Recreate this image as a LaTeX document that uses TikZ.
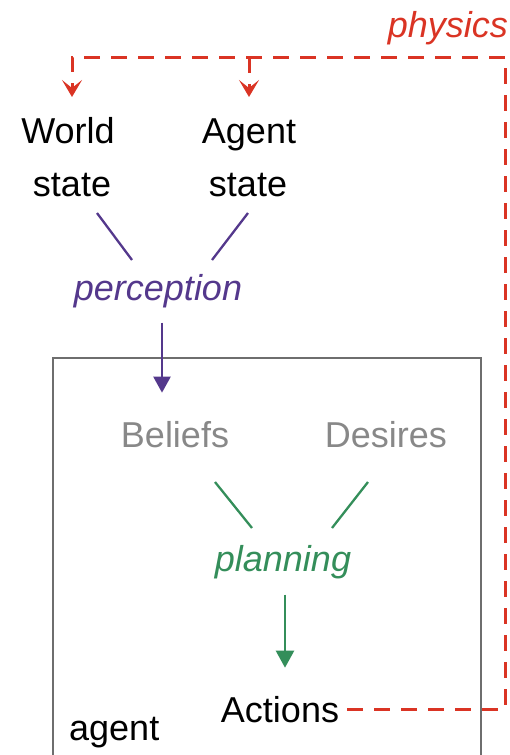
\documentclass[tikz,border=0pt]{standalone}
\usepackage{fontspec}
\setmainfont{Liberation Sans}
\usetikzlibrary{arrows.meta}
\definecolor{physred}{RGB}{218,52,36}
\definecolor{percpurple}{RGB}{84,56,140}
\definecolor{plangreen}{RGB}{52,142,90}
\definecolor{mindgray}{RGB}{136,136,136}
\definecolor{boxgray}{RGB}{110,110,110}
\begin{document}
\begin{tikzpicture}[x=1pt,y=-1pt,
  lbl/.style={font=\fontsize{36}{53}\selectfont, inner sep=0pt, anchor=base},
  ilbl/.style={lbl, font=\fontsize{36}{53}\selectfont\itshape},
  physline/.style={draw=physred, line width=3pt, dash pattern=on 16pt off 11pt,
    -{Stealth[length=17pt,width=20pt,inset=8pt]}},
  percline/.style={draw=percpurple, line width=2.3pt},
  percarrow/.style={percline, -{Triangle[length=16pt,width=17pt]}},
  planline/.style={draw=plangreen, line width=2.3pt},
  planarrow/.style={planline, -{Triangle[length=17pt,width=18pt]}},
  agentbox/.style={draw=boxgray, line width=1.3pt}]
\useasboundingbox (0,0) rectangle (510,755);

% agent boundary (open at the bottom)
\draw[agentbox] (53,755) |- (481,358) -- (481,755);

% labels
\node[ilbl, text=physred, anchor=base east] (phys) at (508,37) {physics};
\node[lbl] (world) at (68,143) {World};
\node[lbl] (worldst) at (72,196) {state};
\node[lbl] (agentw) at (249,143) {Agent};
\node[lbl] (agentst) at (248,196) {state};
\node[ilbl, text=percpurple] (perc) at (158,300) {perception};
\node[lbl, text=mindgray] (bel) at (175,447) {Beliefs};
\node[lbl, text=mindgray] (des) at (386,447) {Desires};
\node[ilbl, text=plangreen] (plan) at (283,571) {planning};
\node[lbl] (act) at (280,722) {Actions};
\node[lbl, anchor=base west] (agt) at (69,740) {agent};

% physics loop
\coordinate (rx) at (505,57);
\coordinate (lx) at (72,57);
\draw[physline] ([xshift=8pt]act.east) -- (act.east -| rx) -- (rx) -- (lx) -- ++(0,40);
\draw[physline] (agentw.north |- rx) -- ++(0,40);

% perception
\coordinate (pa1) at (97,213);  \coordinate (pa2) at (132,260);
\coordinate (pb1) at (248,213); \coordinate (pb2) at (212,260);
\draw[percline] (pa1) -- (pa2);
\draw[percline] (pb1) -- (pb2);
\draw[percarrow] ([xshift=4pt,yshift=-15pt]perc.south) -- ++(0,70);

% planning
\coordinate (ga1) at (215,482); \coordinate (ga2) at (252,528);
\coordinate (gb1) at (368,482); \coordinate (gb2) at (332,528);
\draw[planline] (ga1) -- (ga2);
\draw[planline] (gb1) -- (gb2);
\draw[planarrow] ([xshift=2pt,yshift=-16pt]plan.south) -- ([xshift=5pt,yshift=28pt]act.north);
\end{tikzpicture}
\end{document}
